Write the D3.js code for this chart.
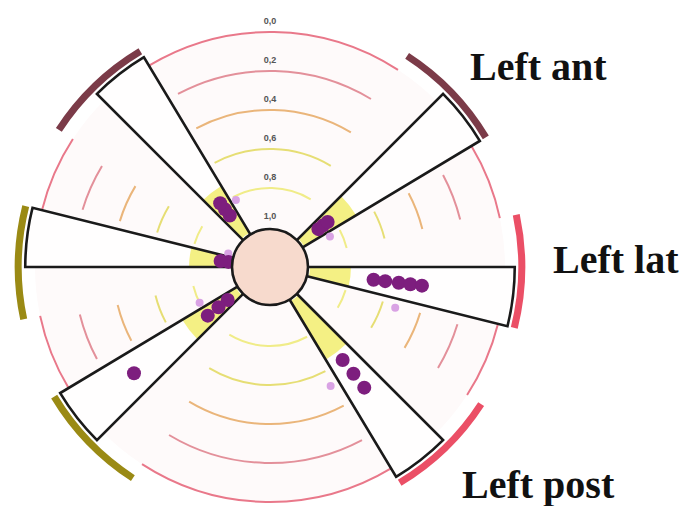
<!DOCTYPE html>
<html>
<head>
<meta charset="utf-8">
<script src="https://cdn.jsdelivr.net/npm/d3@7"></script>
<style>
  body { margin: 0; background: #fff; }
  svg { display: block; }
</style>
</head>
<body>
<div id="chart"></div>
<script>
// sectors sit in 8 slots round the dial (slot 0 = top), slots 0 and 4 are empty
var sectors = ["Left ant", "Left lat", "Left post", "Right post", "Right lat", "Right ant"];
var slots = [1, 2, 3, 5, 6, 7];
var sides = ["ant", "left", "left", "right", "right", "ant"];

// dark purple points, one list per sector
var pointValues = [
  [0.89, 0.86, 0.83],
  [0.67, 0.61, 0.54, 0.48, 0.42],
  [0.60, 0.51, 0.42],
  [0.93, 0.87, 0.80, 0.32],
  [0.99, 0.95],
  [0.87, 0.83, 0.79]
];
// light (reference) point per sector
var refValues = [0.86, 0.53, 0.52, 0.80, 0.98, 0.82];
// yellow zone, from 1,0 out to this value
var yellowLimit = [0.69, 0.79, 0.65, 0.68, 0.79, 0.72];

var ticks = [0, 0.2, 0.4, 0.6, 0.8, 1.0];
var tickLabels = ["0,0", "0,2", "0,4", "0,6", "0,8", "1,0"];

var width = 685, height = 506;
var cx = 270, cy = 267;
var wedgeSpan = 14, arcLead = 12;

var sideColor = { ant: "#7b3b48", left: "#eb4f66", right: "#9a8a14" };
var ringColor = d3.scaleOrdinal()
    .domain(ticks)
    .range(["#e9788a", "#e3909a", "#eab57a", "#e6de74", "#f0ec88", "none"]);
var labelPos = {
  "Left ant": [470, 80],
  "Left lat": [553, 273],
  "Left post": [462, 498]
};

var r = d3.scaleLinear().domain([1, 0]).range([40, 235]);
var slotAngle = d3.scaleLinear().domain([0, 8]).range([0, 360]);
var rad = function(deg) { return deg * Math.PI / 180; };

var svg = d3.select("#chart").append("svg")
    .attr("width", width).attr("height", height);
var g = svg.append("g").attr("transform", "translate(" + cx + "," + cy + ")");

// plain arc path, angles in degrees clockwise from top
function arcPath(radius, a0, a1) {
  var p = d3.path();
  var s = d3.pointRadial(rad(a0), radius);
  p.moveTo(s[0], s[1]);
  p.arc(0, 0, radius, rad(a0) - Math.PI / 2, rad(a1) - Math.PI / 2);
  return p.toString();
}

var data = sectors.map(function(name, i) {
  return {
    name: name,
    angle: slotAngle(slots[i]),
    side: sides[i],
    points: pointValues[i],
    ref: refValues[i],
    yellow: yellowLimit[i]
  };
});

// disc background
g.append("circle").attr("r", r(0)).attr("fill", "#fefafa");

// ring segments in the gaps between sectors
var gaps = data.map(function(d, i) {
  var next = data[(i + 1) % data.length].angle;
  if (next <= d.angle) next += 360;
  return { from: d.angle + wedgeSpan, to: next - arcLead };
});

ticks.forEach(function(t) {
  if (t === 1) return;
  g.append("g").selectAll("path")
    .data(gaps)
    .enter().append("path")
      .attr("d", function(gp) {
        return t === 0 ? arcPath(r(t), gp.from, gp.to)
                       : arcPath(r(t), gp.from + 3, gp.to - 2);
      })
      .attr("fill", "none")
      .attr("stroke", ringColor(t))
      .attr("stroke-width", 2);
});

// coloured outer arcs
var outerArc = d3.arc()
    .innerRadius(r(-0.068))
    .outerRadius(r(-0.104))
    .startAngle(function(d) { return rad(d.angle - arcLead); })
    .endAngle(function(d) { return rad(d.angle + wedgeSpan); });

g.append("g").selectAll("path")
  .data(data)
  .enter().append("path")
    .attr("d", outerArc)
    .attr("fill", function(d) { return sideColor[d.side]; });

// wedges
var wedge = d3.arc()
    .innerRadius(0)
    .outerRadius(r(-0.05))
    .startAngle(function(d) { return rad(d.angle); })
    .endAngle(function(d) { return rad(d.angle + wedgeSpan); });

g.append("g").selectAll("path")
  .data(data)
  .enter().append("path")
    .attr("d", wedge)
    .attr("fill", "#fffefe");

var yellowArc = d3.arc()
    .innerRadius(r(1))
    .outerRadius(function(d) { return r(d.yellow); })
    .startAngle(function(d) { return rad(d.angle); })
    .endAngle(function(d) { return rad(d.angle + wedgeSpan); });

g.append("g").selectAll("path")
  .data(data)
  .enter().append("path")
    .attr("d", yellowArc)
    .attr("fill", "#f4f084");

g.append("g").selectAll("path")
  .data(data)
  .enter().append("path")
    .attr("d", wedge)
    .attr("fill", "none")
    .attr("stroke", "#1a1a1a")
    .attr("stroke-width", 2.6)
    .attr("stroke-linejoin", "miter");

// light reference points, just clockwise of each wedge
g.append("g").selectAll("circle")
  .data(data)
  .enter().append("circle")
    .attr("transform", function(d) {
      return "translate(" + d3.pointRadial(rad(d.angle + wedgeSpan + 4), r(d.ref)) + ")";
    })
    .attr("r", 4)
    .attr("fill", "#d9a2e4");

// purple points on the wedge centre line
var pts = [];
data.forEach(function(d) {
  d.points.forEach(function(v) { pts.push({ angle: d.angle + wedgeSpan / 2, value: v }); });
});

g.append("g").selectAll("circle")
  .data(pts)
  .enter().append("circle")
    .attr("transform", function(d) {
      return "translate(" + d3.pointRadial(rad(d.angle), r(d.value)) + ")";
    })
    .attr("r", 7)
    .attr("fill", "#7d1e7e");

// centre disc
g.append("circle")
    .attr("r", r(1) - 2)
    .attr("fill", "#f7dacd")
    .attr("stroke", "#1a1a1a")
    .attr("stroke-width", 2.6);

// tick labels up the top gap
g.append("g").selectAll("text")
  .data(ticks)
  .enter().append("text")
    .attr("x", 0)
    .attr("y", function(t) { return -r(t) - 8; })
    .attr("text-anchor", "middle")
    .attr("font-family", "Liberation Sans, Arial, sans-serif")
    .attr("font-weight", "bold")
    .attr("font-size", 9)
    .attr("fill", "#555")
    .text(function(t, i) { return tickLabels[i]; });

// sector names
svg.append("g").selectAll("text")
  .data(data.filter(function(d) { return labelPos[d.name]; }))
  .enter().append("text")
    .attr("x", function(d) { return labelPos[d.name][0]; })
    .attr("y", function(d) { return labelPos[d.name][1]; })
    .attr("font-family", "Liberation Serif, Times New Roman, serif")
    .attr("font-weight", "bold")
    .attr("font-size", 40)
    .attr("fill", "#111")
    .text(function(d) { return d.name; });
</script>
</body>
</html>
